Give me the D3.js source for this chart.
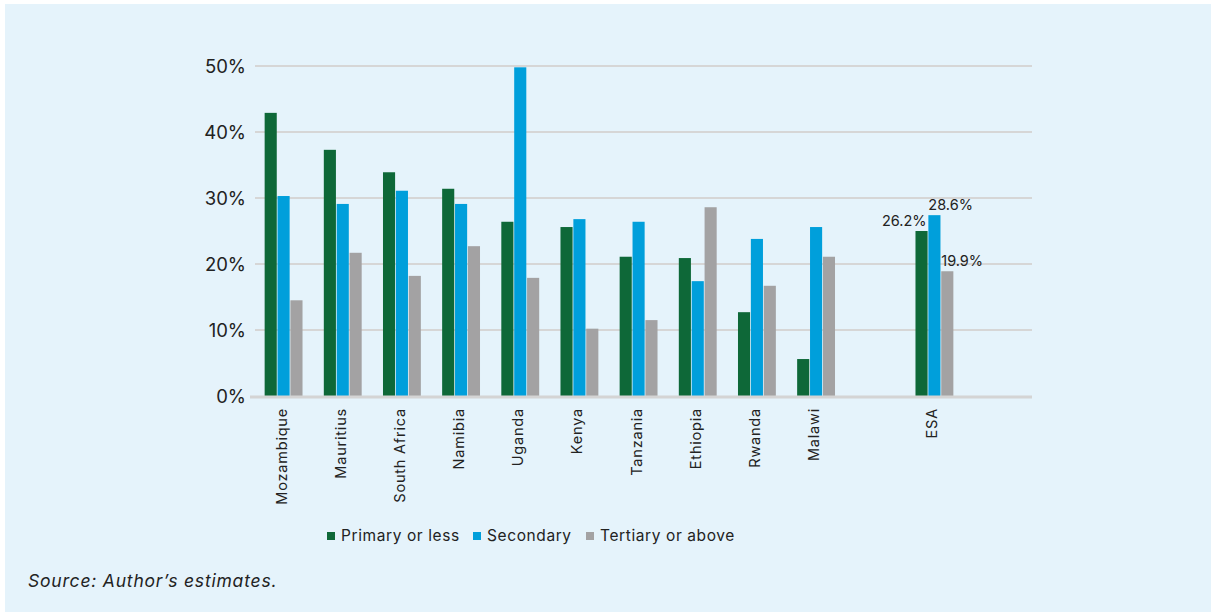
<!DOCTYPE html>
<html>
<head>
<meta charset="utf-8">
<script src="https://cdn.jsdelivr.net/npm/d3@7"></script>
<style>
  html, body { margin: 0; padding: 0; background: #ffffff; }
  svg { display: block; }
  text { font-family: "Inter", "Lato", sans-serif; fill: #222; }
</style>
</head>
<body>
<svg id="chart" width="1211" height="612"></svg>
<script>
// ---- data ----
const categories = ["Mozambique", "Mauritius", "South Africa", "Namibia", "Uganda", "Kenya",
                    "Tanzania", "Ethiopia", "Rwanda", "Malawi", "", "ESA"];
const seriesNames = ["Primary or less", "Secondary", "Tertiary or above"];
const primary   = [42.9, 37.3, 33.9, 31.4, 26.4, 25.6, 21.1, 20.9, 12.7, 5.6, null, 25.0];
const secondary = [30.3, 29.1, 31.1, 29.1, 49.8, 26.8, 26.4, 17.4, 23.8, 25.6, null, 27.4];
const tertiary  = [14.5, 21.7, 18.2, 22.7, 17.9, 10.2, 11.5, 28.6, 16.7, 21.1, null, 18.9];
const esaLabels = ["26.2%", "28.6%", "19.9%"];
const yTicks = [0, 10, 20, 30, 40, 50];
const colors = ["#0e6838", "#009fdb", "#a3a2a3"];
const sourceText = "Source: Author\u2019s estimates.";

const series = [primary, secondary, tertiary];

const svg = d3.select("#chart");
// background panel
svg.append("rect").attr("x", 5).attr("y", 4).attr("width", 1206).attr("height", 608)
   .attr("fill", "#e5f3fb");

const y = d3.scaleLinear().domain([0, 50]).range([396, 66]);
const x0 = d3.scaleBand().domain(categories.map((c, i) => i)).range([254, 964])
   .paddingInner(0.36).paddingOuter(0.18);
const x1 = d3.scaleBand().domain([0, 1, 2]).range([0, x0.bandwidth()]).paddingInner(0.06);

// gridlines
svg.append("g").selectAll("line").data(yTicks.filter(d => d > 0)).join("line")
  .attr("x1", 255).attr("x2", 1032)
  .attr("y1", d => y(d)).attr("y2", d => y(d))
  .attr("stroke", "#d6d6d6").attr("stroke-width", 2);

// y axis labels
const yAxis = d3.axisLeft(y).tickValues(yTicks).tickFormat(d => d + "%").tickSize(0).tickPadding(0);
const gy = svg.append("g").attr("transform", "translate(246,0)").call(yAxis);
gy.select(".domain").remove();
gy.selectAll("text").style("font-size", "18.5px").style("font-family", "Inter, sans-serif")
  .attr("fill", "#222").attr("dy", "0.36em");

// bars
categories.forEach((c, i) => {
  series.forEach((s, j) => {
    const v = s[i];
    if (v == null) return;
    svg.append("rect")
      .attr("x", x0(i) + x1(j))
      .attr("y", y(v))
      .attr("width", x1.bandwidth())
      .attr("height", y(0) - y(v))
      .attr("fill", colors[j]);
  });
});

// baseline
svg.append("line").attr("x1", 250).attr("x2", 1032).attr("y1", y(0) + 1).attr("y2", y(0) + 1)
  .attr("stroke", "#d4d4d4").attr("stroke-width", 3);

// category labels (rotated)
svg.append("g").selectAll("text").data(categories.map((c, i) => ({c, i})).filter(d => d.c !== ""))
  .join("text")
  .attr("transform", d => `translate(${x0(d.i) + x0.bandwidth() / 2 + 3},408) rotate(-90)`)
  .attr("text-anchor", "end")
  .style("font-size", "14.5px")
  .style("letter-spacing", "0.8px")
  .text(d => d.c);

// ESA data labels
const esaIdx = categories.indexOf("ESA");
series.forEach((s, j) => {
  const bx = x0(esaIdx) + x1(j);
  svg.append("text")
    .attr("x", j === 0 ? bx + x1.bandwidth() - 1 : bx)
    .attr("y", y(s[esaIdx]) - 5)
    .attr("text-anchor", j === 0 ? "end" : "start")
    .style("font-size", "14.5px")
    .text(esaLabels[j]);
});

// legend
const legendX = [327, 473, 586];
seriesNames.forEach((n, j) => {
  svg.append("rect").attr("x", legendX[j]).attr("y", 532).attr("width", 8).attr("height", 8)
    .attr("fill", colors[j]);
  svg.append("text").attr("x", legendX[j] + 14).attr("y", 541)
    .style("font-size", "15.5px").style("letter-spacing", "0.6px").text(n);
});

// source
svg.append("text").attr("x", 28).attr("y", 587)
  .style("font-size", "17.5px").style("font-style", "italic").style("letter-spacing", "0.8px")
  .text(sourceText);
</script>
</body>
</html>
